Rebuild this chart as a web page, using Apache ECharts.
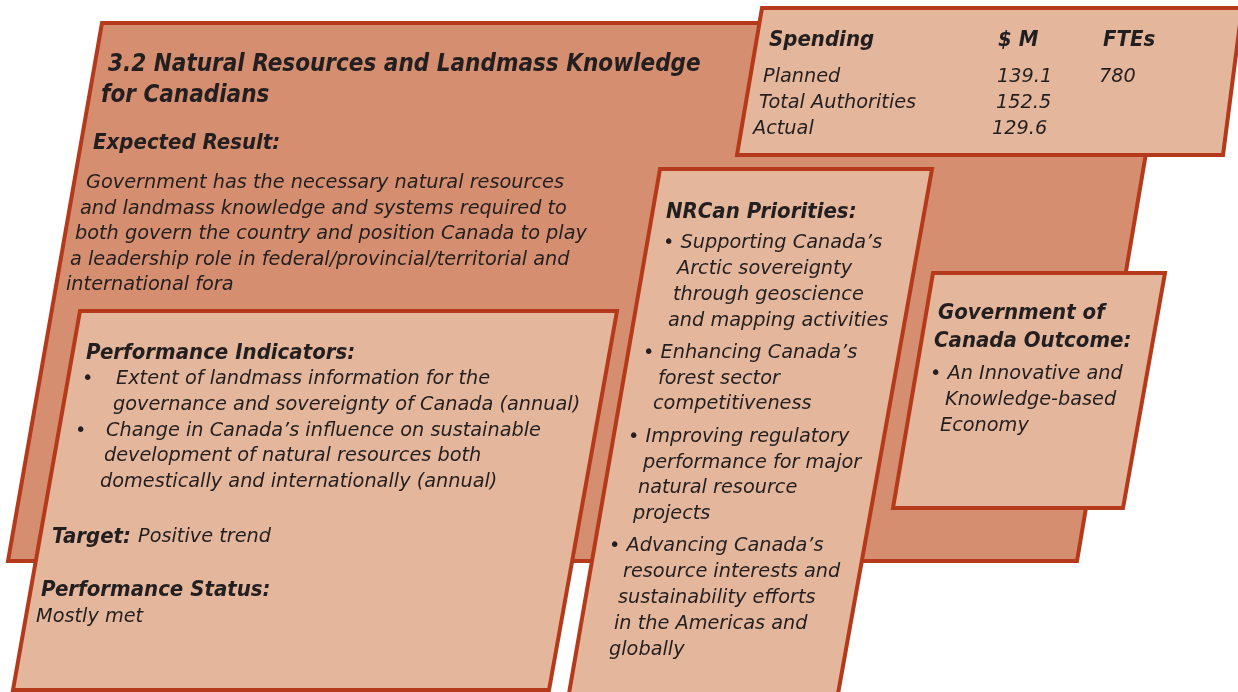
<!DOCTYPE html>
<html>
<head>
<meta charset="utf-8">
<script src="https://cdn.jsdelivr.net/npm/echarts@6/dist/echarts.min.js"></script>
<style>
html,body{margin:0;padding:0;background:#fff;}
#main{width:1238px;height:692px;}
</style>
</head>
<body>
<div id="main"></div>
<script>
// ---- Data ----
var titleLines = ['3.2 Natural Resources and Landmass Knowledge', 'for Canadians'];
var expectedResultLines = [
  'Government has the necessary natural resources',
  'and landmass knowledge and systems required to',
  'both govern the country and position Canada to play',
  'a leadership role in federal/provincial/territorial and',
  'international fora'
];
var spendingHeaders = ['Spending', '$ M', 'FTEs'];
var spendingLabels = ['Planned', 'Total Authorities', 'Actual'];
var spendingValues = [139.1, 152.5, 129.6];
var spendingFTEs = [780, null, null];
var indicatorLines = [
  ['\u2022', 'Extent of landmass information for the'],
  ['', 'governance and sovereignty of Canada (annual)'],
  ['\u2022', 'Change in Canada\u2019s influence on sustainable'],
  ['', 'development of natural resources both'],
  ['', 'domestically and internationally (annual)']
];
var targetText = 'Positive trend';
var statusText = 'Mostly met';
var priorityLines = [
  '\u2022 Supporting Canada\u2019s', 'Arctic sovereignty', 'through geoscience', 'and mapping activities',
  '\u2022 Enhancing Canada\u2019s', 'forest sector', 'competitiveness',
  '\u2022 Improving regulatory', 'performance for major', 'natural resource', 'projects',
  '\u2022 Advancing Canada\u2019s', 'resource interests and', 'sustainability efforts', 'in the Americas and', 'globally'
];
var outcomeTitle = ['Government of', 'Canada Outcome:'];
var outcomeLines = ['\u2022 An Innovative and', 'Knowledge-based', 'Economy'];

// ---- Style ----
var HFONT = '"DejaVu Sans Condensed", "Noto Sans", sans-serif';
var BFONT = '"DejaVu Sans", "Noto Sans", sans-serif';
var BORDER = '#B53A1B';
var DARK = '#D58E6F';
var LIGHT = '#E4B79D';
var INK = '#231F20';
var BODY = 19.3;
var HEAD = 22;

function poly(points, fill) {
  return { type: 'polygon', shape: { points: points },
    style: { fill: fill, stroke: BORDER, lineWidth: 4, lineJoin: 'miter' } };
}
function txt(s, x, y, size, bold) {
  return { type: 'text', z: 10, style: { text: s, x: x, y: y,
    fill: INK, fontFamily: bold ? HFONT : BFONT, fontSize: size, fontStyle: 'italic',
    fontWeight: bold ? 'bold' : 'normal', verticalAlign: 'middle', align: 'left' } };
}

var els = [];
els.push(poly([[102,23],[1168,23],[1077,561],[8,561]], DARK));
els.push(poly([[80,311],[617,311],[549,690],[13,690]], LIGHT));
els.push(poly([[660,169],[932,169],[836,705],[567,705]], LIGHT));
els.push(poly([[933,273],[1165,273],[1123,508],[893,508]], LIGHT));
els.push(poly([[762,8],[1242,8],[1223,155],[737,155]], LIGHT));

// Title
els.push(txt(titleLines[0], 108, 65, 24, true));
els.push(txt(titleLines[1], 101, 96, 24, true));
els.push(txt('Expected Result:', 93, 143, 22, true));
var erX = [86, 80, 75, 70, 66];
expectedResultLines.forEach(function (l, i) { els.push(txt(l, erX[i], 183 + i * 25.5, BODY, false)); });

// Spending table
els.push(txt(spendingHeaders[0], 769, 40, HEAD, true));
els.push(txt(spendingHeaders[1], 998, 40, HEAD, true));
els.push(txt(spendingHeaders[2], 1103, 40, HEAD, true));
var spLabelX = [763, 759, 753];
var spValX = [997, 996, 992];
spendingLabels.forEach(function (l, i) {
  var y = 77 + i * 26;
  els.push(txt(l, spLabelX[i], y, BODY, false));
  els.push(txt(spendingValues[i].toFixed(1), spValX[i], y, BODY, false));
  if (spendingFTEs[i] != null) els.push(txt(String(spendingFTEs[i]), 1099, y, BODY, false));
});

// Performance indicators
els.push(txt('Performance Indicators:', 86, 353, HEAD, true));
var bulX = [82, null, 75, null, null];
var indX = [116, 113, 106, 104, 100];
indicatorLines.forEach(function (l, i) {
  var y = 379 + i * 25.8;
  if (l[0]) els.push(txt(l[0], bulX[i], y, BODY, false));
  els.push(txt(l[1], indX[i], y, BODY, false));
});
els.push(txt('Target:', 52, 537, HEAD, true));
els.push(txt(targetText, 138, 537, BODY, false));
els.push(txt('Performance Status:', 41, 590, HEAD, true));
els.push(txt(statusText, 36, 617, BODY, false));

// NRCan priorities
els.push(txt('NRCan Priorities:', 666, 212, HEAD, true));
var prX = [663, 677, 673, 668, 643, 658, 653, 628, 643, 638, 633, 609, 623, 618, 614, 609];
var prY = [243, 269, 295, 321, 353, 379, 404, 437, 463, 488, 514, 546, 572, 598, 624, 650];
priorityLines.forEach(function (l, i) { els.push(txt(l, prX[i], prY[i], BODY, false)); });

// Government of Canada outcome
els.push(txt(outcomeTitle[0], 938, 313, HEAD, true));
els.push(txt(outcomeTitle[1], 934, 341, HEAD, true));
var ocX = [930, 945, 940];
outcomeLines.forEach(function (l, i) { els.push(txt(l, ocX[i], 374 + i * 26, BODY, false)); });

var chart = echarts.init(document.getElementById('main'), null, { renderer: 'canvas' });
chart.setOption({ backgroundColor: '#ffffff', animation: false, graphic: { elements: els } });
</script>
</body>
</html>
